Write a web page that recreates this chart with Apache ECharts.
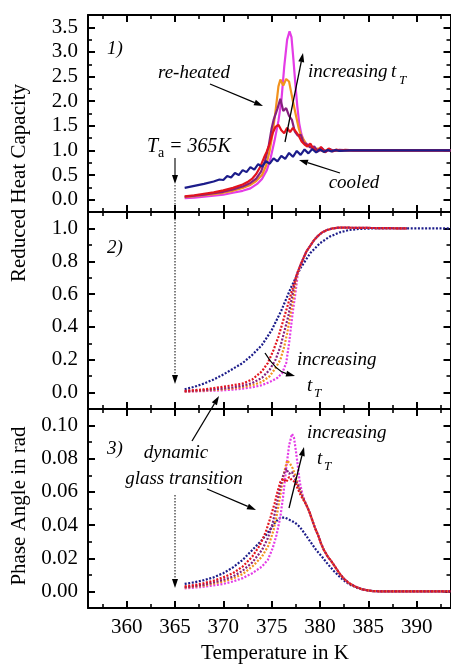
<!DOCTYPE html>
<html>
<head>
<meta charset="utf-8">
<script src="https://cdn.jsdelivr.net/npm/echarts@6/dist/echarts.min.js"></script>
<style>
html,body{margin:0;padding:0;background:#fff;}
#chart{width:451px;height:664px;}
</style>
</head>
<body>
<div id="chart"></div>
<script>
// ---------- DATA ----------
// x ticks (Temperature in K)
const xMajorTicks = [360, 365, 370, 375, 380, 385, 390];
const xMinorTicks = [357.5, 362.5, 367.5, 372.5, 377.5, 382.5, 387.5, 392.5];
// y ticks per panel
const y1Major = [0, 0.5, 1.0, 1.5, 2.0, 2.5, 3.0, 3.5];
const y1Minor = [0.25, 0.75, 1.25, 1.75, 2.25, 2.75, 3.25];
const y2Major = [0, 0.2, 0.4, 0.6, 0.8, 1.0];
const y2Minor = [0.1, 0.3, 0.5, 0.7, 0.9];
const y3Major = [0, 0.02, 0.04, 0.06, 0.08, 0.10];
const y3Minor = [0.01, 0.03, 0.05, 0.07, 0.09];

// Panel 1: reduced heat capacity [T, value]
const heatCooled = [[366.0,0.24],[367.0,0.28],[368.0,0.32],[369.0,0.37],[369.6,0.41],[370.0,0.40],[370.4,0.48],[370.8,0.45],[371.2,0.54],[371.6,0.50],[372.0,0.60],[372.4,0.56],[372.8,0.66],[373.2,0.61],[373.6,0.72],[374.0,0.67],[374.4,0.78],[374.8,0.73],[375.2,0.84],[375.6,0.78],[376.0,0.89],[376.4,0.83],[376.8,0.95],[377.2,0.87],[377.6,0.99],[378.0,0.91],[378.4,1.02],[378.8,0.94],[379.2,1.03],[379.6,0.96],[380.0,1.02],[380.4,0.97],[380.8,1.01],[381.2,0.98],[381.6,1.01],[382.0,0.99],[383.0,1.0],[393.5,1.0]];
const heatRed = [[366.0,0.07],[367.0,0.09],[368.0,0.12],[369.0,0.15],[370.0,0.19],[371.0,0.24],[372.0,0.31],[372.6,0.37],[373.0,0.43],[373.4,0.52],[373.8,0.66],[374.2,0.85],[374.5,0.98],[374.8,1.14],[375.1,1.35],[375.4,1.48],[375.7,1.52],[376.0,1.41],[376.3,1.35],[376.6,1.46],[376.9,1.37],[377.2,1.46],[377.5,1.38],[377.8,1.30],[378.1,1.18],[378.4,1.12],[378.7,1.08],[379.0,1.14],[379.3,1.04],[379.7,0.97],[380.1,1.07],[380.5,0.96],[380.9,1.04],[381.3,0.98],[381.7,1.02],[382.1,0.99],[382.6,1.01],[383.5,1.0],[393.5,1.0]];
const heatPurple = [[366.0,0.06],[367.0,0.08],[368.0,0.10],[369.0,0.13],[370.0,0.16],[371.0,0.21],[372.0,0.27],[372.8,0.34],[373.4,0.43],[373.9,0.57],[374.3,0.78],[374.7,1.10],[375.0,1.45],[375.2,1.62],[375.4,1.65],[375.6,1.85],[375.9,2.05],[376.2,1.80],[376.5,1.86],[376.8,1.70],[377.1,1.62],[377.4,1.38],[377.7,1.30],[378.0,1.32],[378.3,1.16],[378.6,1.12],[379.0,1.06],[379.4,1.08],[379.8,0.98],[380.2,1.05],[380.6,0.97],[381.0,1.03],[381.5,0.99],[382.0,1.01],[383.0,1.0],[393.5,1.0]];
const heatOrange = [[366.0,0.05],[367.0,0.07],[368.0,0.09],[369.0,0.11],[370.0,0.14],[371.0,0.18],[372.0,0.24],[372.8,0.30],[373.4,0.38],[374.0,0.50],[374.4,0.68],[374.8,1.00],[375.1,1.35],[375.4,1.80],[375.7,2.30],[375.9,2.44],[376.2,2.32],[376.5,2.45],[376.8,2.40],[377.0,2.20],[377.2,2.00],[377.5,1.72],[377.8,1.45],[378.0,1.32],[378.3,1.22],[378.6,1.12],[379.0,1.08],[379.4,1.02],[379.8,1.04],[380.3,0.98],[380.8,1.02],[381.5,0.99],[382.5,1.0],[393.5,1.0]];
const heatMagenta = [[366.0,0.03],[367.0,0.04],[368.0,0.06],[369.0,0.08],[370.0,0.10],[371.0,0.14],[372.0,0.18],[372.8,0.23],[373.5,0.32],[374.0,0.42],[374.5,0.60],[374.9,0.85],[375.3,1.20],[375.7,1.60],[376.0,2.00],[376.3,2.70],[376.6,3.25],[376.85,3.42],[377.05,3.30],[377.25,2.85],[377.45,2.35],[377.65,1.90],[377.85,1.55],[378.05,1.35],[378.3,1.20],[378.6,1.14],[378.9,1.10],[379.2,1.04],[379.6,1.02],[380.2,0.99],[381.0,1.0],[393.5,1.0]];

// Panel 2: integrated (sigmoid) curves [T, value]
const intCooled = [[366.0,0.02],[367.0,0.035],[368.0,0.055],[369.0,0.08],[370.0,0.11],[371.0,0.145],[372.0,0.18],[373.0,0.23],[374.0,0.29],[375.0,0.38],[376.0,0.50],[377.0,0.64],[378.0,0.76],[379.0,0.85],[380.0,0.91],[381.0,0.95],[382.0,0.975],[383.0,0.99],[384.0,0.997],[385.5,1.0],[393.5,1.0]];
const intTail = [[378.0,0.78],[378.3,0.82],[378.6,0.86],[379.0,0.895],[379.4,0.93],[379.8,0.955],[380.2,0.975],[380.7,0.99],[381.3,1.0],[382.0,1.005],[389.0,1.0]];
const intRedHead = [[366.0,0.01],[367.0,0.015],[368.0,0.02],[369.0,0.028],[370.0,0.036],[371.0,0.045],[372.0,0.055],[373.0,0.08],[374.0,0.13],[374.6,0.18],[375.2,0.26],[375.7,0.34],[376.2,0.44],[376.6,0.52],[377.0,0.60],[377.3,0.66],[377.6,0.72]];
const intPurpleHead = [[366.0,0.008],[368.0,0.015],[370.0,0.025],[371.0,0.032],[372.0,0.042],[373.0,0.058],[374.0,0.09],[374.8,0.14],[375.4,0.20],[375.9,0.28],[376.3,0.37],[376.7,0.46],[377.0,0.55],[377.3,0.64],[377.6,0.72]];
const intOrangeHead = [[366.0,0.006],[368.0,0.012],[370.0,0.02],[371.0,0.026],[372.0,0.034],[373.0,0.045],[374.0,0.065],[374.8,0.10],[375.4,0.15],[375.9,0.20],[376.3,0.28],[376.6,0.36],[376.9,0.46],[377.2,0.56],[377.4,0.63],[377.6,0.71]];
const intMagentaHead = [[366.0,0.005],[368.0,0.009],[370.0,0.014],[371.0,0.018],[372.0,0.024],[373.0,0.032],[374.0,0.045],[375.0,0.07],[375.6,0.09],[376.1,0.12],[376.5,0.18],[376.8,0.30],[377.0,0.40],[377.2,0.50],[377.4,0.58],[377.7,0.72]];

// Panel 3: phase angle [T, rad]
const phaseCooled = [[366.0,0.0045],[367.0,0.0055],[368.0,0.0068],[369.0,0.0085],[370.0,0.011],[371.0,0.0145],[372.0,0.019],[373.0,0.025],[374.0,0.031],[374.8,0.037],[375.4,0.042],[375.9,0.0445],[376.4,0.0445],[376.9,0.043],[377.4,0.0415],[377.9,0.039],[378.4,0.035],[379.0,0.030],[379.6,0.025],[380.2,0.021],[380.8,0.0165],[381.4,0.0125],[382.0,0.009],[382.6,0.006],[383.2,0.0038],[384.0,0.0018],[385.0,0.0005],[386.0,0.0],[393.5,0.0]];
const phaseTail = [[378.6,0.052],[378.9,0.048],[379.2,0.043],[379.5,0.038],[379.8,0.034],[380.1,0.029],[380.4,0.025],[380.8,0.021],[381.2,0.018],[381.6,0.0145],[382.0,0.011],[382.5,0.0075],[383.0,0.005],[383.6,0.003],[384.4,0.0012],[385.4,0.0002],[386.5,0.0],[393.5,0.0]];
const phaseRedHead = [[366.0,0.003],[367.0,0.0038],[368.0,0.005],[369.0,0.0065],[370.0,0.0085],[371.0,0.011],[372.0,0.015],[373.0,0.021],[373.8,0.028],[374.4,0.036],[374.9,0.045],[375.3,0.053],[375.6,0.060],[375.9,0.066],[376.2,0.068],[376.5,0.066],[376.8,0.069],[377.1,0.067],[377.4,0.066],[377.7,0.062],[378.0,0.058],[378.3,0.055]];
const phasePurpleHead = [[366.0,0.0025],[368.0,0.004],[370.0,0.007],[371.0,0.009],[372.0,0.0125],[373.0,0.0175],[374.0,0.025],[374.6,0.032],[375.1,0.041],[375.5,0.052],[375.9,0.063],[376.2,0.070],[376.5,0.074],[376.8,0.071],[377.1,0.072],[377.4,0.068],[377.8,0.063],[378.2,0.057]];
const phaseOrangeHead = [[366.0,0.0022],[368.0,0.0035],[370.0,0.006],[371.0,0.0078],[372.0,0.0105],[373.0,0.015],[374.0,0.021],[374.7,0.028],[375.2,0.037],[375.6,0.048],[376.0,0.062],[376.3,0.072],[376.6,0.079],[376.9,0.077],[377.2,0.074],[377.5,0.069],[377.8,0.063],[378.2,0.057]];
const phaseMagentaHead = [[366.0,0.0018],[368.0,0.0028],[370.0,0.0045],[371.0,0.006],[372.0,0.008],[373.0,0.011],[374.0,0.015],[374.6,0.019],[375.1,0.026],[375.5,0.034],[375.9,0.045],[376.2,0.058],[376.5,0.074],[376.8,0.088],[377.1,0.095],[377.3,0.093],[377.5,0.085],[377.7,0.076],[377.9,0.066],[378.2,0.058]];

// annotation anchor (annealing temperature)
const annealT = 365;

// ---------- STYLE / LAYOUT ----------
const C = {navy:'#1c1c8a', red:'#e3141e', purple:'#86207e', orange:'#f2921e', magenta:'#e43ce6'};
const SERIF = '"Liberation Serif", "Times New Roman", serif';
const xMin = 356, xMax = 393.5;
const grids = [
  {left:88, top:15, width:362.5, height:197},
  {left:88, top:212, width:362.5, height:197},
  {left:88, top:409, width:362.5, height:199}
];
const yRanges = [
  {min:-0.25, max:3.75, major:y1Major, minor:y1Minor, dec:1},
  {min:-0.1, max:1.1, major:y2Major, minor:y2Minor, dec:1},
  {min:-0.01, max:0.11, major:y3Major, minor:y3Minor, dec:2}
];

const xAxes = [], yAxes = [];
grids.forEach((g, gi) => {
  const lineOn = {show:true, onZero:false, lineStyle:{color:'#000', width:2}};
  const lineOff = {show:false, onZero:false};
  const tickMaj = {show:true, inside:true, length:7, customValues:xMajorTicks, lineStyle:{color:'#000', width:2}};
  const tickMin = {show:true, inside:true, length:4, customValues:xMinorTicks, lineStyle:{color:'#000', width:1.6}};
  const baseX = {type:'value', gridIndex:gi, min:xMin, max:xMax, splitLine:{show:false}};
  xAxes.push({...baseX, position:'bottom', axisLine:lineOn, axisTick:tickMaj,
    axisLabel:{show: gi===2, customValues:xMajorTicks, color:'#000', fontFamily:SERIF, fontSize:21, margin:9}});
  xAxes.push({...baseX, position:'bottom', axisLine:lineOff, axisTick:tickMin, axisLabel:{show:false}});
  xAxes.push({...baseX, position:'top', axisLine:lineOn, axisTick:tickMaj, axisLabel:{show:false}});
  xAxes.push({...baseX, position:'top', axisLine:lineOff, axisTick:tickMin, axisLabel:{show:false}});

  const yr = yRanges[gi];
  const baseY = {type:'value', gridIndex:gi, min:yr.min, max:yr.max, splitLine:{show:false}};
  const yTickMaj = {show:true, inside:true, length:7, customValues:yr.major, lineStyle:{color:'#000', width:2}};
  const yTickMin = {show:true, inside:true, length:4, customValues:yr.minor, lineStyle:{color:'#000', width:1.6}};
  yAxes.push({...baseY, position:'left', axisLine:lineOn, axisTick:yTickMaj,
    axisLabel:{show:true, customValues:yr.major, color:'#000', fontFamily:SERIF, fontSize:21, margin:10,
      formatter: v => Number(v).toFixed(yr.dec)}});
  yAxes.push({...baseY, position:'left', axisLine:lineOff, axisTick:yTickMin, axisLabel:{show:false}});
  yAxes.push({...baseY, position:'right', axisLine:lineOn, axisTick:yTickMaj, axisLabel:{show:false}});
  yAxes.push({...baseY, position:'right', axisLine:lineOff, axisTick:yTickMin, axisLabel:{show:false}});
});

function solid(data, color, gi) {
  return {type:'line', data, xAxisIndex:gi*4, yAxisIndex:gi*4, showSymbol:false, smooth:false,
    lineStyle:{color, width:2.2}, silent:true, z:2};
}
function dotted(data, color, gi) {
  return {type:'line', data, xAxisIndex:gi*4, yAxisIndex:gi*4, showSymbol:false, smooth:false,
    lineStyle:{color, width:2.2, type:[2,1.6]}, silent:true, z:2};
}

const series = [
  solid(heatMagenta, C.magenta, 0),
  solid(heatOrange, C.orange, 0),
  solid(heatPurple, C.purple, 0),
  solid(heatRed, C.red, 0),
  solid(heatCooled, C.navy, 0),

  dotted(intCooled, C.navy, 1),
  dotted(intMagentaHead.concat(intTail), C.magenta, 1),
  dotted(intOrangeHead.concat(intTail), C.orange, 1),
  dotted(intPurpleHead.concat(intTail), C.purple, 1),
  dotted(intRedHead.concat(intTail), C.red, 1),

  dotted(phaseCooled, C.navy, 2),
  dotted(phaseMagentaHead.concat(phaseTail), C.magenta, 2),
  dotted(phaseOrangeHead.concat(phaseTail), C.orange, 2),
  dotted(phasePurpleHead.concat(phaseTail), C.purple, 2),
  dotted(phaseRedHead.concat(phaseTail), C.red, 2)
];

const chart = echarts.init(document.getElementById('chart'), null, {renderer:'canvas'});
chart.setOption({
  animation:false,
  backgroundColor:'#fff',
  grid: grids.map(g => ({...g, containLabel:false, outerBoundsMode:'none'})),
  xAxis: xAxes,
  yAxis: yAxes,
  series
});

// ---------- ANNOTATIONS ----------
function txt(text, x, y, opt) {
  opt = opt || {};
  return {type:'text', x, y, rotation: opt.rot || 0, z:100, silent:true,
    style:{text, fill:'#000', fontFamily:SERIF, fontSize: opt.size || 19,
      fontStyle: opt.italic === false ? 'normal' : 'italic',
      textAlign: opt.align || 'center', textVerticalAlign:'middle'}};
}
function arrow(x1, y1, x2, y2, opt) {
  opt = opt || {};
  const L = opt.head || 9, W = opt.hw || 3;
  const dx = x2 - x1, dy = y2 - y1, len = Math.hypot(dx, dy);
  const ux = dx / len, uy = dy / len;
  const bx = x2 - ux * L, by = y2 - uy * L;
  const px = -uy * W, py = ux * W;
  return [
    {type:'line', z:100, silent:true, shape:{x1, y1, x2:bx, y2:by},
      style:{stroke:'#000', lineWidth: opt.w || 1.3, lineDash: opt.dash || null}},
    {type:'polygon', z:100, silent:true, shape:{points:[[x2, y2], [bx + px, by + py], [bx - px, by - py]]},
      style:{fill:'#000'}}
  ];
}
function curvedArrow(x1, y1, cx, cy, x2, y2) {
  const L = 9, W = 3;
  const dx = x2 - cx, dy = y2 - cy, len = Math.hypot(dx, dy);
  const ux = dx / len, uy = dy / len;
  const bx = x2 - ux * L, by = y2 - uy * L;
  const px = -uy * W, py = ux * W;
  return [
    {type:'bezierCurve', z:100, silent:true, shape:{x1, y1, x2:bx, y2:by, cpx1:cx, cpy1:cy},
      style:{stroke:'#000', lineWidth:1.3, fill:null}},
    {type:'polygon', z:100, silent:true, shape:{points:[[x2, y2], [bx + px, by + py], [bx - px, by - py]]},
      style:{fill:'#000'}}
  ];
}

const xa = chart.convertToPixel({xAxisIndex:0}, annealT);
const p1Bottom = grids[0].top + grids[0].height;
const dots = [1.5, 1.5];

const graphic = [].concat(
  // axis titles
  [txt('Reduced Heat Capacity', 19, 183, {italic:false, size:21, rot:Math.PI/2})],
  [txt('Phase Angle in rad', 19, 506, {italic:false, size:21, rot:Math.PI/2})],
  [txt('Temperature in K', 275, 653, {italic:false, size:21})],
  // panel labels
  [txt('1)', 107, 49, {align:'left'}), txt('2)', 107, 248, {align:'left'}), txt('3)', 107, 449, {align:'left'})],
  // panel 1
  [txt('re-heated', 194, 73)],
  arrow(210, 84, 263, 106),
  [txt('increasing', 308, 72, {align:'left'}), txt('t', 391, 72, {align:'left'}), txt('T', 399, 81, {align:'left', size:13})],
  arrow(285, 142, 303, 53),
  [txt('T', 147, 147, {align:'left', size:20}), txt('a', 158, 153, {align:'left', size:14, italic:false}),
   txt('= 365K', 169, 147, {align:'left', size:20})],
  arrow(xa, 158, xa, 184, {w:1.1}),
  [{type:'line', z:100, silent:true, shape:{x1:xa, y1:185, x2:xa, y2:p1Bottom}, style:{stroke:'#222', lineWidth:1, lineDash:dots}}],
  [txt('cooled', 354, 183)],
  arrow(340, 173, 299, 160),
  // panel 2
  arrow(xa, 213, xa, 384, {w:1, dash:dots}),
  [txt('increasing', 297, 360, {align:'left'}), txt('t', 307, 386, {align:'left'}), txt('T', 314, 394, {align:'left', size:13})],
  curvedArrow(265, 353, 276, 371, 295, 376),
  // panel 3
  [txt('dynamic', 176, 453), txt('glass transition', 184, 479)],
  arrow(192, 441, 219, 396),
  arrow(207, 489, 256, 510),
  arrow(xa, 495, xa, 588, {w:1, dash:dots}),
  [txt('increasing', 307, 433, {align:'left'}), txt('t', 317, 459, {align:'left'}), txt('T', 324, 467, {align:'left', size:13})],
  arrow(289, 508, 304, 447)
);
chart.setOption({graphic});
</script>
</body>
</html>
